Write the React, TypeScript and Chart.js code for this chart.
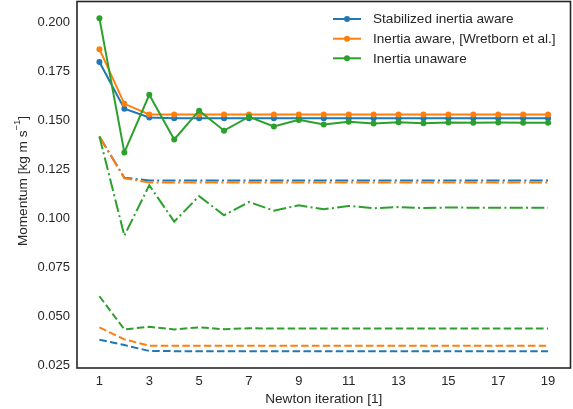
import React, { useEffect, useRef } from "react";
import { Chart, registerables } from "chart.js";

Chart.register(...registerables);

const iterations = [1, 2, 3, 4, 5, 6, 7, 8, 9, 10, 11, 12, 13, 14, 15, 16, 17, 18, 19];

const stabilizedSolid = [0.180, 0.1562, 0.1517, 0.1513, 0.1513, 0.1513, 0.1513, 0.1513, 0.1513, 0.1513, 0.1513, 0.1513, 0.1513, 0.1513, 0.1513, 0.1513, 0.1513, 0.1513, 0.1513];
const awareSolid = [0.1866, 0.1587, 0.1533, 0.1533, 0.1533, 0.1533, 0.1533, 0.1533, 0.1533, 0.1533, 0.1533, 0.1533, 0.1533, 0.1533, 0.1533, 0.1533, 0.1533, 0.1533, 0.1533];
const unawareSolid = [0.2023, 0.1339, 0.1633, 0.1405, 0.1552, 0.1450, 0.1521, 0.1471, 0.1505, 0.1481, 0.1496, 0.1486, 0.1493, 0.1488, 0.1491, 0.1490, 0.1491, 0.1490, 0.1490];

const stabilizedDashDot = [0.1420, 0.1210, 0.1196, 0.1196, 0.1196, 0.1196, 0.1196, 0.1196, 0.1196, 0.1196, 0.1196, 0.1196, 0.1196, 0.1196, 0.1196, 0.1196, 0.1196, 0.1196, 0.1196];
const awareDashDot = [0.1420, 0.1207, 0.1186, 0.1186, 0.1186, 0.1186, 0.1186, 0.1186, 0.1186, 0.1186, 0.1186, 0.1186, 0.1186, 0.1186, 0.1186, 0.1186, 0.1186, 0.1186, 0.1186];
const unawareDashDot = [0.1420, 0.0914, 0.1172, 0.0986, 0.1116, 0.1018, 0.1086, 0.1042, 0.1069, 0.1049, 0.1066, 0.1054, 0.1060, 0.1055, 0.1058, 0.1057, 0.1057, 0.1057, 0.1057];

const stabilizedDashed = [0.0383, 0.0356, 0.0326, 0.0325, 0.0325, 0.0325, 0.0325, 0.0325, 0.0325, 0.0325, 0.0325, 0.0325, 0.0325, 0.0325, 0.0325, 0.0325, 0.0325, 0.0325, 0.0325];
const awareDashed = [0.0446, 0.0385, 0.0353, 0.0353, 0.0353, 0.0353, 0.0353, 0.0353, 0.0353, 0.0353, 0.0353, 0.0353, 0.0353, 0.0353, 0.0353, 0.0353, 0.0353, 0.0353, 0.0353];
const unawareDashed = [0.0605, 0.0436, 0.0449, 0.0436, 0.0446, 0.0437, 0.0442, 0.0440, 0.0441, 0.0440, 0.0441, 0.0440, 0.0440, 0.0440, 0.0440, 0.0440, 0.0440, 0.0440, 0.0440];

const xTicks = [1, 3, 5, 7, 9, 11, 13, 15, 17, 19];
const yTicks = [0.025, 0.05, 0.075, 0.1, 0.125, 0.15, 0.175, 0.2];

const legendLabels = ["Stabilized inertia aware", "Inertia aware, [Wretborn et al.]", "Inertia unaware"];
const xTitle = "Newton iteration [1]";
const yTitleMain = "Momentum [kg m s";
const yTitleSup = "\u22121";
const yTitleEnd = "]";

const BLUE = "#1f77b4";
const ORANGE = "#ff7f0e";
const GREEN = "#2ca02c";
const TEXT = "#262626";
const FONT = "'Liberation Sans', Arial, sans-serif";

const DASHED = [7.5, 3.3];
const DASHDOT = [13, 3.3, 2, 3.3];

export default function App() {
  const ref = useRef<HTMLCanvasElement | null>(null);

  useEffect(() => {
    const canvas = ref.current;
    if (!canvas) return;

    const pts = (arr: number[]) => arr.map((v, i) => ({ x: iterations[i], y: v }));

    const series = [
      { data: stabilizedSolid, color: BLUE, dash: [] as number[], marker: true },
      { data: awareSolid, color: ORANGE, dash: [] as number[], marker: true },
      { data: unawareSolid, color: GREEN, dash: [] as number[], marker: true },
      { data: stabilizedDashDot, color: BLUE, dash: DASHDOT, marker: false },
      { data: awareDashDot, color: ORANGE, dash: DASHDOT, marker: false },
      { data: unawareDashDot, color: GREEN, dash: DASHDOT, marker: false },
      { data: stabilizedDashed, color: BLUE, dash: DASHED, marker: false },
      { data: awareDashed, color: ORANGE, dash: DASHED, marker: false },
      { data: unawareDashed, color: GREEN, dash: DASHED, marker: false },
    ];

    const datasets = series.map((s, i) => ({
      data: pts(s.data),
      borderColor: s.color,
      backgroundColor: s.color,
      borderWidth: 2,
      borderDash: s.dash,
      pointRadius: s.marker ? 3 : 0,
      pointBorderWidth: 0,
      pointBackgroundColor: s.color,
      tension: 0,
      fill: false,
      order: 100 - i,
    }));

    const decor = {
      id: "decor",
      afterDatasetsDraw(chart: any) {
        const ctx = chart.ctx;
        const a = chart.chartArea;
        ctx.save();
        ctx.strokeStyle = TEXT;
        ctx.lineWidth = 1.6;
        ctx.setLineDash([]);
        ctx.strokeRect(a.left, a.top, a.right - a.left, a.bottom - a.top);
        ctx.restore();
      },
      afterDraw(chart: any) {
        const ctx = chart.ctx;
        const a = chart.chartArea;
        ctx.save();
        // legend
        const colors = [BLUE, ORANGE, GREEN];
        const rows = [19, 38.7, 58.3];
        ctx.font = `13.6px ${FONT}`;
        ctx.textBaseline = "middle";
        ctx.textAlign = "left";
        legendLabels.forEach((lab, i) => {
          const y = rows[i];
          ctx.strokeStyle = colors[i];
          ctx.lineWidth = 2;
          ctx.setLineDash([]);
          ctx.beginPath();
          ctx.moveTo(333, y);
          ctx.lineTo(361, y);
          ctx.stroke();
          ctx.fillStyle = colors[i];
          ctx.beginPath();
          ctx.arc(347, y, 3, 0, Math.PI * 2);
          ctx.fill();
          ctx.fillStyle = TEXT;
          ctx.fillText(lab, 373, y + 0.5);
        });
        // x title
        ctx.fillStyle = TEXT;
        ctx.textAlign = "center";
        ctx.textBaseline = "middle";
        ctx.font = `13.6px ${FONT}`;
        ctx.fillText(xTitle, (a.left + a.right) / 2, 399);
        // y title with superscript
        ctx.font = `13.6px ${FONT}`;
        const w1 = ctx.measureText(yTitleMain).width;
        ctx.font = `9.5px ${FONT}`;
        const w2 = ctx.measureText(yTitleSup).width;
        ctx.font = `13.6px ${FONT}`;
        const w3 = ctx.measureText(yTitleEnd).width;
        const total = w1 + w2 + w3;
        ctx.translate(23, 181);
        ctx.rotate(-Math.PI / 2);
        ctx.textAlign = "left";
        ctx.textBaseline = "middle";
        let x0 = -total / 2;
        ctx.fillText(yTitleMain, x0, 0);
        x0 += w1;
        ctx.font = `9.5px ${FONT}`;
        ctx.fillText(yTitleSup, x0, -6);
        x0 += w2;
        ctx.font = `13.6px ${FONT}`;
        ctx.fillText(yTitleEnd, x0, 0);
        ctx.restore();
      },
    };

    const chart = new Chart(canvas, {
      type: "line",
      data: { datasets },
      options: {
        animation: false,
        responsive: false,
        devicePixelRatio: 1,
        layout: { autoPadding: false, padding: { top: 1.5, right: 2.5, left: 0, bottom: 0 } },
        plugins: { legend: { display: false }, tooltip: { enabled: false } },
        scales: {
          x: {
            type: "linear",
            min: 0.1,
            max: 19.9,
            afterBuildTicks: (scale: any) => {
              scale.ticks = xTicks.map((v) => ({ value: v }));
            },
            afterFit: (scale: any) => {
              scale.height = 41;
              scale.paddingLeft = 0;
              scale.paddingRight = 0;
              scale.paddingTop = 0;
              scale.paddingBottom = 0;
            },
            grid: { display: false, drawTicks: false },
            border: { display: false },
            ticks: {
              color: TEXT,
              font: { family: FONT, size: 13 },
              padding: 6,
              maxRotation: 0,
              autoSkip: false,
              callback: (v: any) => String(v),
            },
          },
          y: {
            type: "linear",
            min: 0.0239,
            max: 0.2109,
            afterBuildTicks: (scale: any) => {
              scale.ticks = yTicks.map((v) => ({ value: v }));
            },
            afterFit: (scale: any) => {
              scale.width = 77;
              scale.paddingLeft = 0;
              scale.paddingRight = 0;
              scale.paddingTop = 0;
              scale.paddingBottom = 0;
            },
            grid: { display: false, drawTicks: false },
            border: { display: false },
            ticks: {
              color: TEXT,
              font: { family: FONT, size: 13 },
              padding: 7,
              autoSkip: false,
              callback: (v: any) => Number(v).toFixed(3),
            },
          },
        },
      },
      plugins: [decor],
    });

    return () => chart.destroy();
  }, []);

  return (
    <div style={{ position: "fixed", left: 0, top: 0, width: 573, height: 409, background: "#fff" }}>
      <canvas ref={ref} width={573} height={409} style={{ display: "block", width: 573, height: 409 }} />
    </div>
  );
}
